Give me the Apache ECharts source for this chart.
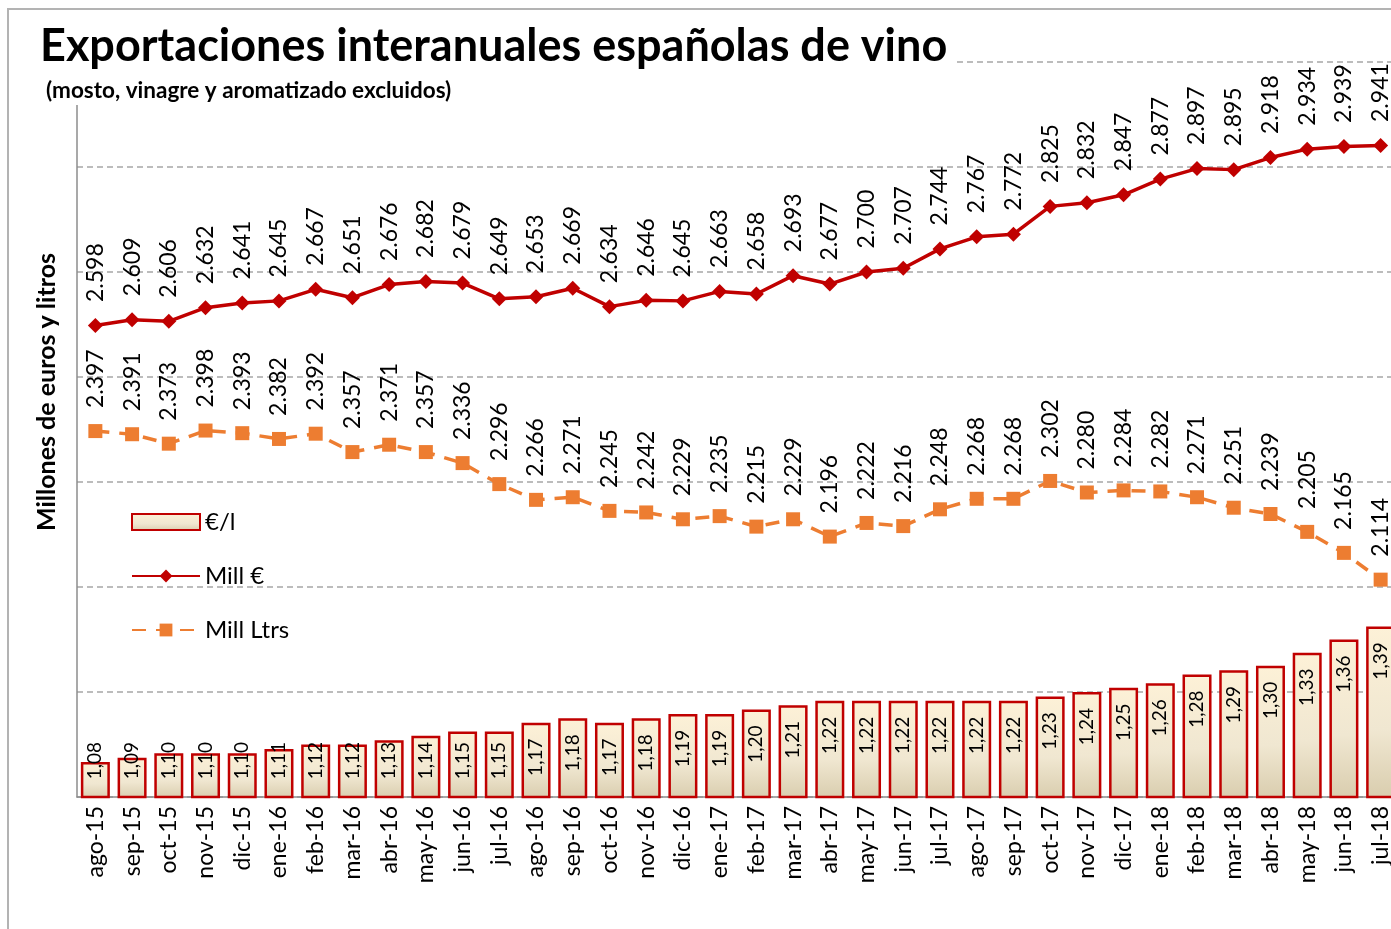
<!DOCTYPE html>
<html>
<head>
<meta charset="utf-8">
<title>Exportaciones interanuales españolas de vino</title>
<script src="https://cdn.jsdelivr.net/npm/echarts@6/dist/echarts.min.js"></script>
<style>
  html, body { margin: 0; padding: 0; background: #fff; }
  #main { width: 1391px; height: 929px; }
</style>
</head>
<body>
<div id="main"></div>
<script>
    // meses (interanual)
    var meses = ['ago-15', 'sep-15', 'oct-15', 'nov-15', 'dic-15', 'ene-16', 'feb-16', 'mar-16', 'abr-16',
        'may-16', 'jun-16', 'jul-16', 'ago-16', 'sep-16', 'oct-16', 'nov-16', 'dic-16', 'ene-17', 'feb-17',
        'mar-17', 'abr-17', 'may-17', 'jun-17', 'jul-17', 'ago-17', 'sep-17', 'oct-17', 'nov-17', 'dic-17',
        'ene-18', 'feb-18', 'mar-18', 'abr-18', 'may-18', 'jun-18', 'jul-18'];

    // Mill €
    var millEuros = [2598, 2609, 2606, 2632, 2641, 2645, 2667, 2651, 2676, 2682, 2679, 2649, 2653, 2669,
        2634, 2646, 2645, 2663, 2658, 2693, 2677, 2700, 2707, 2744, 2767, 2772, 2825, 2832, 2847, 2877,
        2897, 2895, 2918, 2934, 2939, 2941];

    // Mill Ltrs
    var millLitros = [2397, 2391, 2373, 2398, 2393, 2382, 2392, 2357, 2371, 2357, 2336, 2296, 2266, 2271,
        2245, 2242, 2229, 2235, 2215, 2229, 2196, 2222, 2216, 2248, 2268, 2268, 2302, 2280, 2284, 2282,
        2271, 2251, 2239, 2205, 2165, 2114];

    // €/l
    var euroLitro = [1.08, 1.09, 1.10, 1.10, 1.10, 1.11, 1.12, 1.12, 1.13, 1.14, 1.15, 1.15, 1.17, 1.18,
        1.17, 1.18, 1.19, 1.19, 1.20, 1.21, 1.22, 1.22, 1.22, 1.22, 1.22, 1.22, 1.23, 1.24, 1.25, 1.26,
        1.28, 1.29, 1.30, 1.33, 1.36, 1.39];

    var FONT = 'Lato';

    // 2598 -> "2.598"
    function fmtMiles(v) {
        var s = String(v);
        return s.length > 3 ? s.slice(0, s.length - 3) + '.' + s.slice(-3) : s;
    }
    // 1.08 -> "1,08"
    function fmtDec(v) {
        return v.toFixed(2).replace('.', ',');
    }

    var myChart = echarts.init(document.getElementById('main'));

    var opt = {
        animation: false,
        textStyle: {fontFamily: FONT},
        title: [{
            text: 'Exportaciones interanuales españolas de vino',
            left: 35,
            top: 19,
            textStyle: {fontSize: 45, fontWeight: 'bold', color: '#000', fontFamily: FONT}
        }, {
            text: '(mosto, vinagre y aromatizado excluidos)',
            left: 41,
            top: 74,
            textStyle: {fontSize: 22.5, fontWeight: 'bold', color: '#000', fontFamily: FONT}
        }],
        graphic: [{
            // marco exterior
            type: 'rect',
            z: -1,
            shape: {x: 8, y: 9, width: 1500, height: 1000},
            style: {fill: 'none', stroke: '#b3b3b3', lineWidth: 2}
        }, {
            // caja blanca del título
            type: 'rect',
            z: 1,
            shape: {x: 10, y: 11, width: 945, height: 94},
            style: {fill: '#fff'}
        }, {
            type: 'text',
            z: 5,
            x: 47,
            y: 392,
            rotation: Math.PI / 2,
            style: {
                text: 'Millones de euros y litros',
                fontSize: 25,
                fontWeight: 'bold',
                fontFamily: FONT,
                fill: '#000',
                align: 'center',
                verticalAlign: 'middle'
            }
        }],
        legend: {
            orient: 'vertical',
            left: 126,
            top: 505,
            itemWidth: 68,
            itemHeight: 16,
            itemGap: 30,
            data: [{name: '€/l', icon: 'rect'}, 'Mill €', 'Mill Ltrs'],
            textStyle: {fontSize: 24, lineHeight: 24, color: '#000', fontFamily: FONT}
        },
        grid: {
            left: 77,
            top: 62,
            width: 1322,
            height: 735,
            outerBoundsMode: 'none'
        },
        xAxis: {
            type: 'category',
            data: meses,
            boundaryGap: true,
            axisTick: {show: false},
            axisLine: {lineStyle: {color: '#8c8c8c', width: 1.5}},
            axisLabel: {
                rotate: 90,
                interval: 0,
                margin: 9,
                fontSize: 23,
                color: '#000',
                fontFamily: FONT
            }
        },
        yAxis: [{
            type: 'value',
            min: 1700,
            max: 3100,
            interval: 200,
            axisLabel: {show: false},
            axisTick: {show: false},
            axisLine: {show: true, lineStyle: {color: '#8c8c8c', width: 1.5}},
            splitLine: {lineStyle: {color: '#a6a6a6', type: [6, 4], width: 1.5}}
        }, {
            type: 'value',
            min: 1.0,
            max: 2.68,
            show: false,
            splitLine: {show: false}
        }],
        series: [{
            name: '€/l',
            type: 'bar',
            yAxisIndex: 1,
            barWidth: 29,
            z: 2,
            itemStyle: {
                color: new echarts.graphic.LinearGradient(0, 0, 0, 1, [
                    {offset: 0, color: '#fdf1d7'},
                    {offset: 0.6, color: '#f0e7d1'},
                    {offset: 1, color: '#d9cdae'}
                ]),
                borderColor: '#c00000',
                borderWidth: 2.5
            },
            label: {
                show: true,
                position: 'insideBottom',
                distance: 19,
                rotate: 90,
                align: 'left',
                verticalAlign: 'middle',
                fontSize: 19,
                color: '#000',
                fontFamily: FONT,
                formatter: function (p) {
                    return fmtDec(p.value);
                }
            },
            data: euroLitro
        }, {
            name: 'Mill €',
            type: 'line',
            yAxisIndex: 0,
            z: 4,
            symbol: 'diamond',
            symbolSize: 15,
            itemStyle: {color: '#c00000'},
            lineStyle: {color: '#c00000', width: 3.5},
            label: {
                show: true,
                position: 'top',
                distance: 16,
                rotate: 90,
                align: 'left',
                verticalAlign: 'middle',
                fontSize: 23,
                color: '#000',
                fontFamily: FONT,
                formatter: function (p) {
                    return fmtMiles(p.value);
                }
            },
            data: millEuros
        }, {
            name: 'Mill Ltrs',
            type: 'line',
            yAxisIndex: 0,
            z: 3,
            symbol: 'rect',
            symbolSize: 14,
            itemStyle: {color: '#ed7d31'},
            lineStyle: {color: '#ed7d31', width: 3.5, type: [14, 10]},
            label: {
                show: true,
                position: 'top',
                distance: 16,
                rotate: 90,
                align: 'left',
                verticalAlign: 'middle',
                fontSize: 23,
                color: '#000',
                fontFamily: FONT,
                formatter: function (p) {
                    return fmtMiles(p.value);
                }
            },
            data: millLitros
        }]
    };

    myChart.setOption(opt);

    // etiquetas de las barras: "inside end", pero sin bajar demasiado en barras cortas
    var base = myChart.convertToPixel({yAxisIndex: 1}, 1.0);
    var barData = euroLitro.map(function (v) {
        var h = base - myChart.convertToPixel({yAxisIndex: 1}, v);
        return {value: v, label: {distance: Math.max(19, h - 52)}};
    });
    myChart.setOption({series: [{name: '€/l', data: barData}]});
</script>
</body>
</html>
